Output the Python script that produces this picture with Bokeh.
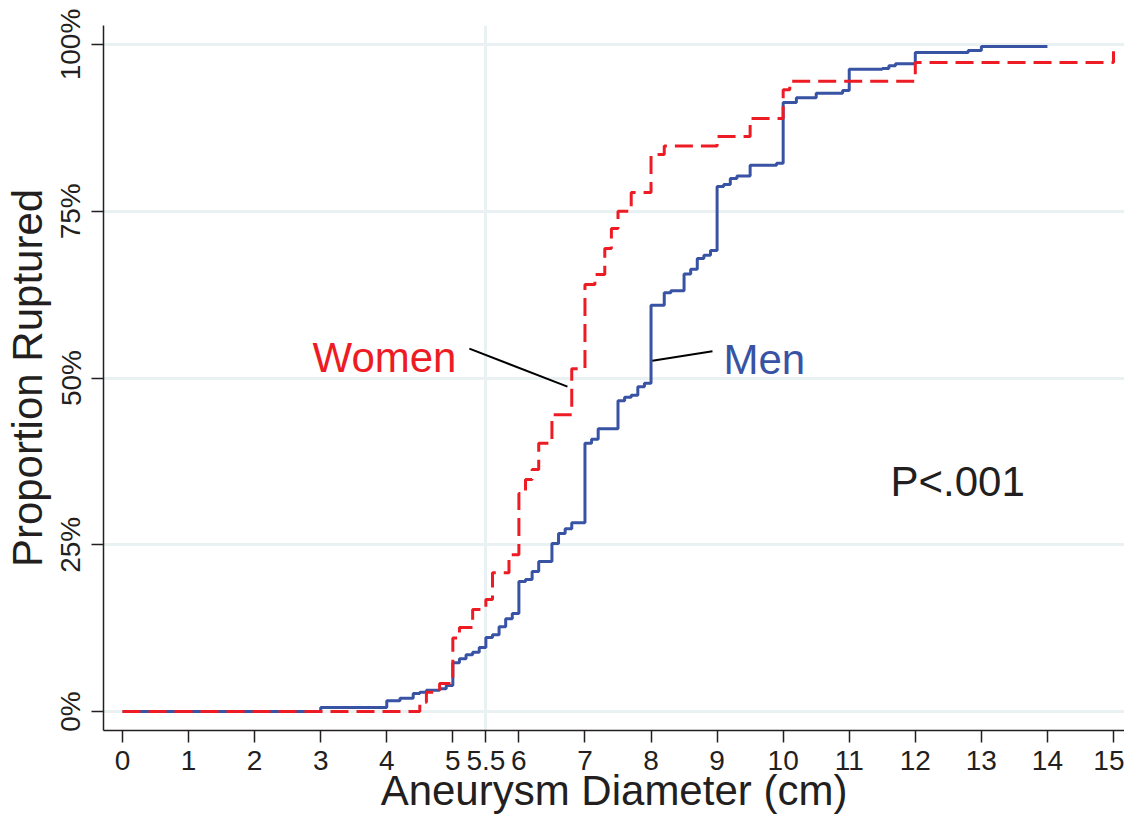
from bokeh.plotting import figure
from bokeh.models import FixedTicker, Range1d, Label
from bokeh.embed import file_html
from bokeh.resources import INLINE

# ---- data ----
men_x = [0, 3.0, 4.0, 4.2, 4.4, 4.5, 4.6, 4.8, 4.9, 5.0, 5.1, 5.2, 5.3, 5.4, 5.5, 5.6, 5.7,
         5.8, 5.9, 6.0, 6.1, 6.2, 6.3, 6.5, 6.6, 6.7, 6.8, 7.0, 7.1, 7.2, 7.5, 7.6, 7.7, 7.8,
         7.9, 8.0, 8.2, 8.3, 8.5, 8.6, 8.7, 8.8, 8.9, 9.0, 9.1, 9.2, 9.3, 9.5, 9.9, 10.0,
         10.2, 10.5, 10.9, 11.0, 11.5, 11.6, 11.7, 12.0, 12.8, 13.0, 14.0]
men_y = [0, 0.6, 1.6, 2.0, 2.7, 2.9, 3.2, 3.4, 3.9, 7.3, 7.9, 8.5, 8.9, 9.6, 11.1, 11.5, 12.7,
         13.9, 14.7, 19.5, 19.8, 21.0, 22.5, 25.2, 26.7, 27.4, 28.3, 40.2, 40.8, 42.4, 46.6,
         47.1, 47.4, 48.7, 49.2, 60.9, 62.8, 63.1, 65.6, 66.3, 67.9, 68.4, 69.1, 78.7, 79.0,
         79.9, 80.3, 81.9, 82.2, 91.3, 92.0, 92.7, 93.1, 96.3, 96.4, 96.8, 97.1, 98.8, 99.1,
         99.7, 99.7]

women_x = [0, 4.5, 4.6, 4.8, 5.0, 5.1, 5.3, 5.5, 5.6, 5.85, 6.0, 6.1, 6.2, 6.3, 6.5, 6.8,
           7.0, 7.15, 7.3, 7.4, 7.5, 7.7, 8.0, 8.2, 9.0, 9.5, 10.0, 10.1, 12.0, 15.0]
women_y = [0, 1.4, 2.9, 4.2, 11.0, 12.6, 15.3, 16.8, 20.8, 23.5, 32.7, 34.8, 36.3, 40.2,
           44.5, 51.4, 64.0, 65.5, 69.4, 72.4, 75.0, 77.8, 83.5, 84.8, 86.2, 88.9, 93.2,
           94.5, 97.3, 99.0]

x_ticks = [0, 1, 2, 3, 4, 5, 5.5, 6, 7, 8, 9, 10, 11, 12, 13, 14, 15]
x_tick_labels = ["0", "1", "2", "3", "4", "5", "5.5", "6", "7", "8", "9", "10", "11",
                 "12", "13", "14", "15"]
y_ticks = [0, 25, 50, 75, 100]
y_tick_labels = ["0%", "25%", "50%", "75%", "100%"]

FONT = "Liberation Sans"
TXT = "#231f20"
RED = "#ed1c24"
BLUE = "#3953a4"
GRID = "#e9f1f3"

p = figure(width=1124, height=816, output_backend="svg", toolbar_location=None,
           x_range=Range1d(-0.2876, 15.1665), y_range=Range1d(-2.85, 102.85),
           min_border_left=103, min_border_right=0, min_border_top=25,
           min_border_bottom=86)
p.outline_line_color = None
p.background_fill_color = "white"

# grids
p.xgrid.ticker = FixedTicker(ticks=[5.5])
p.ygrid.ticker = FixedTicker(ticks=y_ticks)
for g in (p.xgrid, p.ygrid):
    g.grid_line_color = GRID
    g.grid_line_width = 3

# axes
p.xaxis.ticker = FixedTicker(ticks=x_ticks)
p.xaxis.major_label_overrides = {t: l for t, l in zip(x_ticks, x_tick_labels)}
p.yaxis.ticker = FixedTicker(ticks=y_ticks)
p.yaxis.major_label_overrides = {t: l for t, l in zip(y_ticks, y_tick_labels)}
p.yaxis.major_label_orientation = "vertical"
p.xaxis.axis_label = "Aneurysm Diameter (cm)"
p.yaxis.axis_label = "Proportion Ruptured"
for ax in (p.xaxis, p.yaxis):
    ax.axis_line_color = TXT
    ax.axis_line_width = 1.5
    ax.major_tick_line_color = TXT
    ax.major_tick_line_width = 1.5
    ax.major_tick_out = 12
    ax.major_tick_in = 0
    ax.minor_tick_line_color = None
    ax.major_label_text_font = FONT
    ax.major_label_text_font_size = "28px"
    ax.major_label_text_color = TXT
    ax.axis_label_text_font = FONT
    ax.axis_label_text_font_size = "42px"
    ax.axis_label_text_font_style = "normal"
    ax.axis_label_text_color = TXT
p.xaxis.major_label_standoff = 8
p.xaxis.axis_label_standoff = -6
p.yaxis.major_label_standoff = 5
p.yaxis.axis_label_standoff = 2

# curves
p.step(men_x, men_y, mode="after", line_color=BLUE, line_width=3)
p.step(women_x, women_y, mode="after", line_color=RED, line_width=3, line_dash="18 8")

# leader lines
p.line([5.25, 6.735], [54.4, 48.7], line_color="black", line_width=2)
p.line([8.02, 8.93], [52.6, 54.0], line_color="black", line_width=2)

# annotations
p.add_layout(Label(x=2.876, y=53.07, text="Women", text_color=RED, text_font=FONT,
                   text_font_size="42px", text_baseline="alphabetic", text_align="left"))
p.add_layout(Label(x=9.097, y=52.77, text="Men", text_color=BLUE, text_font=FONT,
                   text_font_size="42px", text_baseline="alphabetic", text_align="left"))
p.add_layout(Label(x=11.624, y=34.48, text="P<.001", text_color=TXT, text_font=FONT,
                   text_font_size="42px", text_baseline="alphabetic", text_align="left"))

open("out.html", "w").write(file_html(p, INLINE))
